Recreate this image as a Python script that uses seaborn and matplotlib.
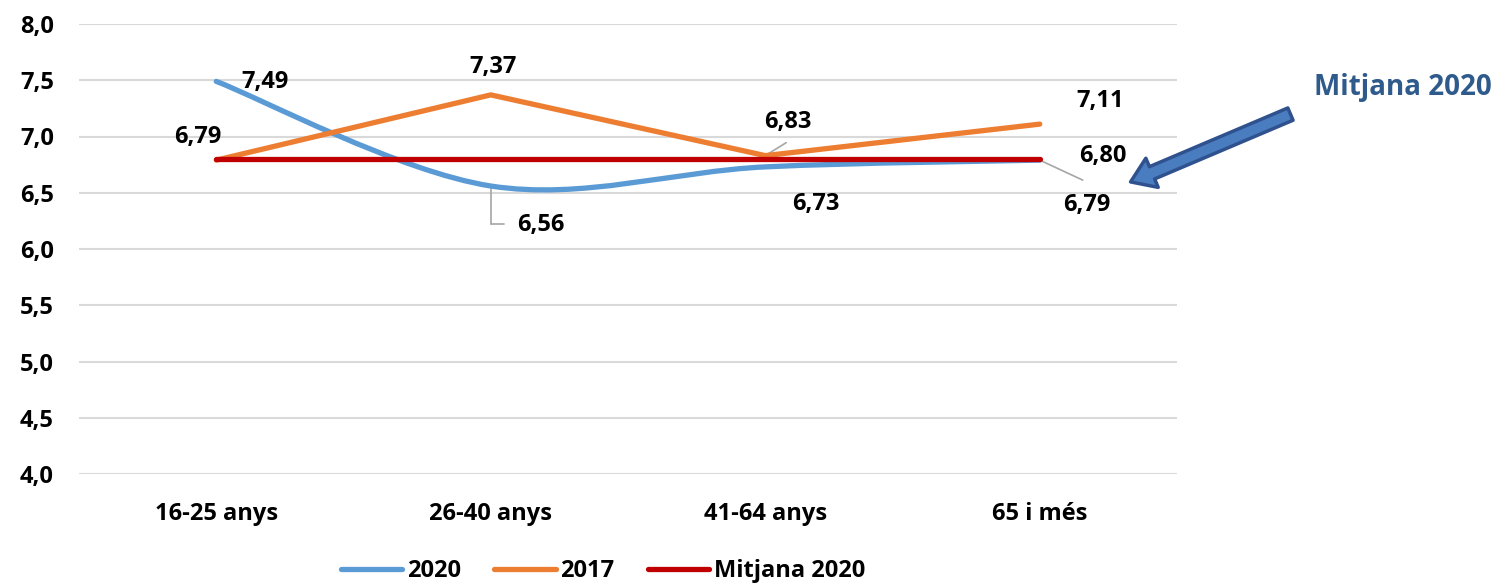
import numpy as np
import matplotlib
matplotlib.use("Agg")
import matplotlib.pyplot as plt
from matplotlib.path import Path
from matplotlib.patches import PathPatch, FancyArrowPatch
from matplotlib.lines import Line2D
import seaborn as sns

# DATA
categories = ["16-25 anys", "26-40 anys", "41-64 anys", "65 i més"]
vals_2020 = [7.49, 6.56, 6.73, 6.79]
vals_2017 = [6.79, 7.37, 6.83, 7.11]
vals_mitjana = [6.80, 6.80, 6.80, 6.80]
y_ticks = [4.0, 4.5, 5.0, 5.5, 6.0, 6.5, 7.0, 7.5, 8.0]

BLUE = "#5B9BD5"
ORANGE = "#ED7D31"
RED = "#C00000"
NAVY = "#2E5A8C"
FS = 17

sns.set_style("white")
plt.rcParams["font.family"] = ["Liberation Sans Narrow", "Open Sans", "DejaVu Sans"]
plt.rcParams["font.weight"] = "bold"
plt.rcParams["text.color"] = "black"
plt.rcParams["xtick.color"] = "black"
plt.rcParams["ytick.color"] = "black"

fig = plt.figure(figsize=(14.97, 5.84), dpi=100)
ax = fig.add_axes([79 / 1497, 110 / 584, 1098 / 1497, 450 / 584])

xs = np.arange(len(categories))

# gridlines
for t in y_ticks:
    ax.axhline(t, color="#d9d9d9", lw=1.5, zorder=0)

# 2020 - smoothed line (Bezier through the points, like Excel smoothing)
pts = np.column_stack([xs, vals_2020]).astype(float)
verts = [tuple(pts[0])]
codes = [Path.MOVETO]
n = len(pts)
for i in range(n - 1):
    p_prev = pts[max(i - 1, 0)]
    p0 = pts[i]
    p1 = pts[i + 1]
    p_next = pts[min(i + 2, n - 1)]
    c1 = p0 + (p1 - p_prev) / 6
    c2 = p1 - (p_next - p0) / 6
    verts += [tuple(c1), tuple(c2), tuple(p1)]
    codes += [Path.CURVE4] * 3
ax.add_patch(PathPatch(Path(verts, codes), fill=False, ec=BLUE, lw=3.8,
                       capstyle="round", zorder=2))

# 2017 and mean
sns.lineplot(x=xs, y=vals_2017, ax=ax, color=ORANGE, lw=3.8, zorder=3,
             solid_capstyle="round")
sns.lineplot(x=xs, y=vals_mitjana, ax=ax, color=RED, lw=3.8, zorder=4,
             solid_capstyle="round")

ax.set_xlim(-0.5, 3.5)
ax.set_ylim(4.0, 8.0)
ax.set_yticks(y_ticks)
ax.set_yticklabels([f"{t:.1f}".replace(".", ",") for t in y_ticks])
ax.set_xticks(xs)
ax.set_xticklabels(categories)
ax.tick_params(axis="both", length=0, labelsize=FS, labelcolor="black")
ax.tick_params(axis="x", pad=20)
ax.tick_params(axis="y", pad=18)
for s in ax.spines.values():
    s.set_visible(False)


def fmt(v):
    return f"{v:.2f}".replace(".", ",")


lbl = dict(fontsize=FS, fontweight="bold", ha="center", va="center",
           color="black", textcoords="offset pixels", zorder=6)
lead = dict(arrowstyle="-", color="#a6a6a6", lw=1.2, shrinkA=0, shrinkB=0)

# labels 2020
ax.annotate(fmt(vals_2020[0]), (xs[0], vals_2020[0]), xytext=(49, -1), **lbl)
ax.annotate(fmt(vals_2020[1]), (xs[1], vals_2020[1]), xytext=(50, -39), **lbl)
ax.plot([xs[1], xs[1]], [vals_2020[1] - 0.02, vals_2020[1] - 0.34],
        color="#a6a6a6", lw=1.2, zorder=1)
ax.plot([xs[1], xs[1] + 0.05], [vals_2020[1] - 0.34, vals_2020[1] - 0.34],
        color="#a6a6a6", lw=1.2, zorder=1)
ax.annotate(fmt(vals_2020[2]), (xs[2], vals_2020[2]), xytext=(51, -37), **lbl)
ax.annotate(fmt(vals_2020[3]), (xs[3], vals_2020[3]), xytext=(47, -45), **lbl)
ax.annotate("", (xs[3], vals_2020[3]), xytext=(43, -20),
            textcoords="offset pixels", arrowprops=lead, zorder=1)

# labels 2017
ax.annotate(fmt(vals_2017[0]), (xs[0], vals_2017[0]), xytext=(-18, 23), **lbl)
ax.annotate(fmt(vals_2017[1]), (xs[1], vals_2017[1]), xytext=(2, 28), **lbl)
ax.annotate(fmt(vals_2017[2]), (xs[2], vals_2017[2]), xytext=(23, 34), **lbl)
ax.annotate("", (xs[2], vals_2017[2]), xytext=(21, 13),
            textcoords="offset pixels", arrowprops=lead, zorder=1)
ax.annotate(fmt(vals_2017[3]), (xs[3], vals_2017[3]), xytext=(60, 23), **lbl)

# label mean
ax.annotate(fmt(vals_mitjana[3]), (xs[3], vals_mitjana[3]), xytext=(63, 3), **lbl)

# callout arrow
fig.text(1403 / 1497, 1 - 87 / 584, "Mitjana 2020", color=NAVY, fontsize=20,
         fontweight="bold", ha="center", va="center")
fig.patches.append(FancyArrowPatch(
    (1293, 584 - 113), (1128, 584 - 183), transform=None,
    arrowstyle="simple,head_length=1.4,head_width=1.9,tail_width=0.8",
    mutation_scale=12, fc="#4A7CC0", ec="#2F528F", lw=2.5))

# legend
handles = [Line2D([], [], color=BLUE, lw=3.8, solid_capstyle="round"),
           Line2D([], [], color=ORANGE, lw=3.8, solid_capstyle="round"),
           Line2D([], [], color=RED, lw=3.8, solid_capstyle="round")]
fig.legend(handles, ["2020", "2017", "Mitjana 2020"], loc="center",
           bbox_to_anchor=(603 / 1497, 1 - 571 / 584), ncol=3, frameon=False,
           handlelength=2.6, handletextpad=0.2, columnspacing=1.4,
           prop={"weight": "bold", "size": FS})

fig.savefig("out.png", dpi=100)
